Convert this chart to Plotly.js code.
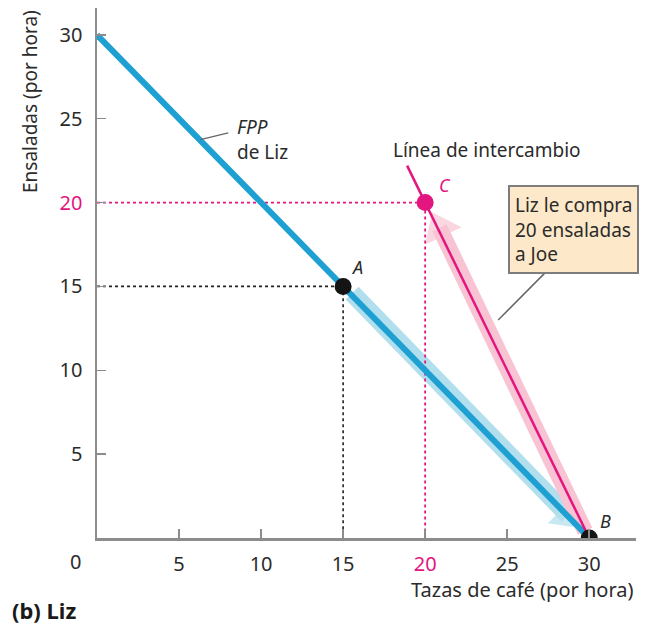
<!DOCTYPE html>
<html><head><meta charset="utf-8">
<script src="https://cdn.plot.ly/plotly-3.0.1.min.js"></script>
<style>html,body{margin:0;padding:0;background:#fff}#chart{width:646px;height:626px}</style>
</head><body><div id="chart"></div>
<script>
// ---- data ----
const fppX = [0, 30];
const fppY = [30, 0];
const tradeX = [18.9, 30];
const tradeY = [22.2, 0];
const pointNames = ['A', 'B', 'C'];
const pointX = [15, 30, 20];
const pointY = [15, 0, 20];
const xTickVals = [5, 10, 15, 20, 25, 30];
const xTickText = ['5', '10', '15', '20', '25', '30'];
const yTickVals = [5, 10, 15, 20, 25, 30];
const yTickText = ['5', '10', '15', '20', '25', '30'];
const highlightTick = '20';
// arrows (movement A->B along FPP, B->C along trade line); last point = arrow head centre
const blueArrowX = [15.55, 28.72];
const blueArrowY = [14.6, 1.35];
const pinkArrowX = [29.75, 20.88];
const pinkArrowY = [0.4, 18.48];
// leader lines
const fppLeaderX = [6.3, 8.0];
const fppLeaderY = [23.75, 24.15];
const boxLeaderX = [24.45, 27.5];
const boxLeaderY = [13.0, 16.0];

const BLUE = '#1ea0d2', LBLUE = '#b2dfed', MAG = '#e3157f', PINK = '#f8c4d4';
const AX = '#8c8c8c', TXT = '#2b2b2b';
const FONT = 'Noto Sans, sans-serif';

function colorTicks(txt) {
  return txt.map(t => t === highlightTick ? '<span style="color:' + MAG + '">' + t + '</span>' : t);
}

const iA = 0, iC = 2;
const traces = [
  { x: blueArrowX, y: blueArrowY, mode: 'lines+markers',
    line: { color: LBLUE, width: 18 },
    marker: { symbol: 'triangle-up', size: [0, 35], color: LBLUE, angleref: 'previous', line: { width: 0 } } },
  { x: pinkArrowX, y: pinkArrowY, mode: 'lines+markers',
    line: { color: PINK, width: 16 },
    marker: { symbol: 'triangle-up', size: [0, 35], color: PINK, angleref: 'previous', line: { width: 0 } } },
  { x: [0, pointX[iA], pointX[iA]], y: [pointY[iA], pointY[iA], 0], mode: 'lines',
    line: { color: '#222', width: 1.6, dash: 'dot' } },
  { x: [0, pointX[iC], pointX[iC]], y: [pointY[iC], pointY[iC], 0], mode: 'lines',
    line: { color: MAG, width: 1.8, dash: 'dot' } },
  { x: fppX, y: fppY, mode: 'lines', line: { color: BLUE, width: 6 } },
  { x: tradeX, y: tradeY, mode: 'lines', line: { color: MAG, width: 2.5 } },
  { x: fppLeaderX, y: fppLeaderY, mode: 'lines', line: { color: '#666', width: 1.3 } },
  { x: boxLeaderX, y: boxLeaderY, mode: 'lines', line: { color: '#666', width: 1.5 } },
  { x: pointX, y: pointY, mode: 'markers',
    marker: { size: 17, color: ['#141414', '#141414', MAG] } }
];

const labelShift = [[14, 19], [16, 17], [20, 18]];
const labelColor = [TXT, TXT, MAG];
const annotations = pointNames.map((n, i) => ({
  x: pointX[i], y: pointY[i], xref: 'x', yref: 'y', text: '<i>' + n + '</i>',
  showarrow: false, xshift: labelShift[i][0], yshift: labelShift[i][1],
  xanchor: 'center', yanchor: 'middle',
  font: { family: FONT, size: 18, color: labelColor[i] }
}));
annotations.push(
  { x: 8.41, y: 23.75, xref: 'x', yref: 'y', xanchor: 'left', yanchor: 'middle', align: 'left',
    text: '<i>FPP</i><br>de Liz', showarrow: false, font: { family: FONT, size: 19, color: TXT } },
  { x: 23.78, y: 23.15, xref: 'x', yref: 'y', xanchor: 'center', yanchor: 'middle',
    text: 'Línea de intercambio', showarrow: false,
    font: { family: FONT, size: 19, color: TXT } },
  { x: 25.06, y: 21.06, xref: 'x', yref: 'y', xanchor: 'left', yanchor: 'top', align: 'left',
    text: 'Liz le compra<br>20 ensaladas<br>a Joe', showarrow: false,
    bgcolor: '#fde8c9', bordercolor: '#7d7d7d', borderwidth: 2, borderpad: 5,
    font: { family: FONT, size: 19, color: TXT } },
  { x: -0.124, y: 0.823, xref: 'paper', yref: 'paper', xanchor: 'center', yanchor: 'middle',
    text: 'Ensaladas (por hora)', textangle: -90,
    showarrow: false, font: { family: FONT, size: 19, color: TXT } },
  { x: 1, y: -0.098, xref: 'paper', yref: 'paper', xanchor: 'right', yanchor: 'middle',
    text: 'Tazas de café (por hora)',
    showarrow: false, font: { family: FONT, size: 20, color: TXT } },
  { x: -0.039, y: -0.045, xref: 'paper', yref: 'paper', xanchor: 'center', yanchor: 'middle', text: '0',
    showarrow: false, font: { family: FONT, size: 20, color: TXT } },
  { x: -0.161, y: -0.136, xref: 'paper', yref: 'paper', xanchor: 'left', yanchor: 'middle',
    text: '<b>(b) Liz</b>',
    showarrow: false, font: { family: FONT, size: 22, color: '#1a1a1a' } }
);

const layout = {
  width: 646, height: 626,
  margin: { l: 97, r: 10, t: 8, b: 88 },
  paper_bgcolor: '#fff', plot_bgcolor: '#fff',
  showlegend: false,
  xaxis: { range: [0, 32.85], showgrid: false, zeroline: false, showline: true,
    linecolor: AX, linewidth: 2.5, ticks: 'inside', ticklen: 9, tickwidth: 1.5, tickcolor: AX,
    tickvals: xTickVals, ticktext: colorTicks(xTickText), ticklabelstandoff: 6,
    tickfont: { family: FONT, size: 20, color: TXT } },
  yaxis: { range: [0, 31.6], showgrid: false, zeroline: false, showline: true,
    linecolor: AX, linewidth: 2.5, ticks: 'inside', ticklen: 9, tickwidth: 1.5, tickcolor: AX,
    tickvals: yTickVals, ticktext: colorTicks(yTickText), ticklabelstandoff: 8,
    tickfont: { family: FONT, size: 20, color: TXT } },
  annotations: annotations
};

Plotly.newPlot('chart', traces, layout, { staticPlot: true, displayModeBar: false });
</script>
</body></html>
